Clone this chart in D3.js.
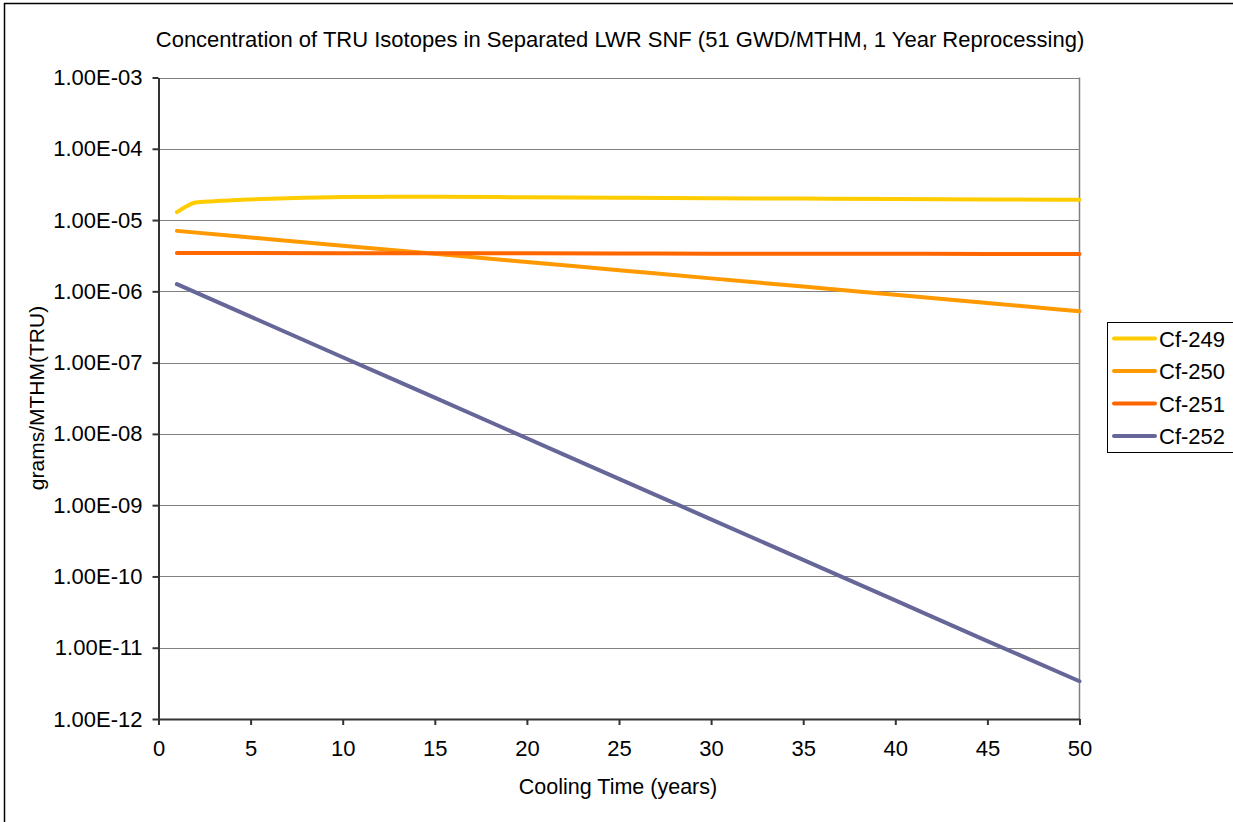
<!DOCTYPE html>
<html>
<head>
<meta charset="utf-8">
<script src="https://cdn.jsdelivr.net/npm/d3@7"></script>
<style>
  body { margin: 0; background: #fff; }
  svg { display: block; font-family: "Liberation Sans", Arial, sans-serif; }
  svg text { font-family: "Liberation Sans", Arial, sans-serif; }
  .tick text { font-size: 22px; fill: #000; }
</style>
</head>
<body>
<div id="content"></div>
<script>
// cooling time (years) where values were read
const YEARS_249 = [1, 1.5, 2, 3, 5, 7, 10, 13, 15, 20, 25, 30, 35, 40, 45, 50];
const CF249 = [1.29e-5, 1.55e-5, 1.76e-5, 1.84e-5, 1.95e-5, 2.03e-5, 2.11e-5, 2.13e-5, 2.12e-5, 2.09e-5, 2.06e-5, 2.03e-5, 2.00e-5, 1.97e-5, 1.95e-5, 1.92e-5];

const YEARS = [1, 5, 10, 15, 20, 25, 30, 35, 40, 45, 50];
const CF250 = [7.05e-6, 5.7e-6, 4.37e-6, 3.36e-6, 2.58e-6, 1.98e-6, 1.52e-6, 1.165e-6, 8.94e-7, 6.86e-7, 5.26e-7];
const CF251 = [3.45e-6, 3.44e-6, 3.43e-6, 3.42e-6, 3.41e-6, 3.40e-6, 3.38e-6, 3.37e-6, 3.36e-6, 3.35e-6, 3.33e-6];
const CF252 = [1.26e-6, 4.41e-7, 1.19e-7, 3.22e-8, 8.68e-9, 2.34e-9, 6.33e-10, 1.71e-10, 4.61e-11, 1.24e-11, 3.39e-12];

const SERIES_NAMES = ['Cf-249', 'Cf-250', 'Cf-251', 'Cf-252'];
const COLORS = ['#FFCC00', '#FF9900', '#FF6600', '#666699'];

const X_TICKS = [0, 5, 10, 15, 20, 25, 30, 35, 40, 45, 50];
const Y_TICKS = [1e-12, 1e-11, 1e-10, 1e-9, 1e-8, 1e-7, 1e-6, 1e-5, 1e-4, 1e-3];

var width = 1233;
var height = 822;
var plot = {left: 158.5, top: 77.5, right: 1079.5, bottom: 719};

var series = [
    {name: SERIES_NAMES[0], xs: YEARS_249, ys: CF249},
    {name: SERIES_NAMES[1], xs: YEARS, ys: CF250},
    {name: SERIES_NAMES[2], xs: YEARS, ys: CF251},
    {name: SERIES_NAMES[3], xs: YEARS, ys: CF252},
];

var svg = d3.select('#content')
.append('svg')
.attr('width', width)
.attr('height', height);

// outer chart border
svg.append('rect')
.attr('x', 4.5)
.attr('y', 3.5)
.attr('width', width + 10)
.attr('height', height + 10)
.attr('fill', '#fff')
.attr('stroke', '#000')
.attr('stroke-width', 1.5);

var xScale = d3.scaleLinear().domain([0, 50]).range([plot.left, plot.right]);
var yScale = d3.scaleLog().domain([1e-12, 1e-3]).range([plot.bottom, plot.top]);

// gridlines
svg.append('g')
.selectAll('line')
.data(Y_TICKS.slice(1))
.enter()
.append('line')
.attr('x1', plot.left)
.attr('x2', plot.right)
.attr('y1', d => Math.round(yScale(d)) + 0.5)
.attr('y2', d => Math.round(yScale(d)) + 0.5)
.attr('stroke', '#808080')
.attr('stroke-width', 1);

// right border of plot
svg.append('line')
.attr('x1', plot.right).attr('x2', plot.right)
.attr('y1', plot.top).attr('y2', plot.bottom)
.attr('stroke', '#808080')
.attr('stroke-width', 1.5);

// axes
var xAxis = d3.axisBottom(xScale)
.tickValues(X_TICKS)
.tickSizeInner(6)
.tickSizeOuter(0)
.tickPadding(15)
.tickFormat(d3.format('d'));

svg.append('g')
.attr('class', 'x-axis')
.attr('transform', 'translate(0, ' + plot.bottom + ')')
.call(xAxis)
.attr('font-family', null)
.attr('font-size', null);

var yAxis = d3.axisLeft(yScale)
.tickValues(Y_TICKS)
.tickSizeInner(6)
.tickSizeOuter(0)
.tickPadding(10)
.tickFormat(d => d.toExponential(2).toUpperCase().replace(/E([+-])(\d)$/, 'E$10$2'));

svg.append('g')
.attr('class', 'y-axis')
.attr('transform', 'translate(' + plot.left + ', 0)')
.call(yAxis)
.attr('font-family', null)
.attr('font-size', null);

svg.selectAll('.x-axis .domain, .y-axis .domain, .tick line')
.attr('stroke', '#333')
.attr('stroke-width', 2);

// lines
var line = d3.line()
.x(d => xScale(d[0]))
.y(d => yScale(d[1]))
.curve(d3.curveMonotoneX);

svg.append('g')
.selectAll('path')
.data(series)
.enter()
.append('path')
.attr('d', s => line(s.xs.map((x, i) => [x, s.ys[i]])))
.attr('fill', 'none')
.attr('stroke', (s, i) => COLORS[i])
.attr('stroke-width', 4)
.attr('stroke-linecap', 'round');

// titles
svg.append('text')
.attr('x', 620)
.attr('y', 47)
.attr('text-anchor', 'middle')
.attr('font-size', 22)
.text('Concentration of TRU Isotopes in Separated LWR SNF (51 GWD/MTHM, 1 Year Reprocessing)');

svg.append('text')
.attr('x', 618)
.attr('y', 794)
.attr('text-anchor', 'middle')
.attr('font-size', 21.5)
.text('Cooling Time (years)');

svg.append('text')
.attr('transform', 'translate(44, 398) rotate(-90)')
.attr('text-anchor', 'middle')
.attr('font-size', 21)
.text('grams/MTHM(TRU)');

// legend
var legend = svg.append('g');
legend.append('rect')
.attr('x', 1107.5)
.attr('y', 322.5)
.attr('width', 130)
.attr('height', 130)
.attr('fill', '#fff')
.attr('stroke', '#000')
.attr('stroke-width', 1);

var items = legend.selectAll('g.item')
.data(SERIES_NAMES)
.enter()
.append('g')
.attr('class', 'item')
.attr('transform', (d, i) => 'translate(0, ' + (338.5 + i * 32.5) + ')');

items.append('line')
.attr('x1', 1114).attr('x2', 1155)
.attr('stroke', (d, i) => COLORS[i])
.attr('stroke-width', 4)
.attr('stroke-linecap', 'round');

items.append('text')
.attr('x', 1159)
.attr('y', 8)
.attr('font-size', 22)
.text(d => d);
</script>
</body>
</html>
